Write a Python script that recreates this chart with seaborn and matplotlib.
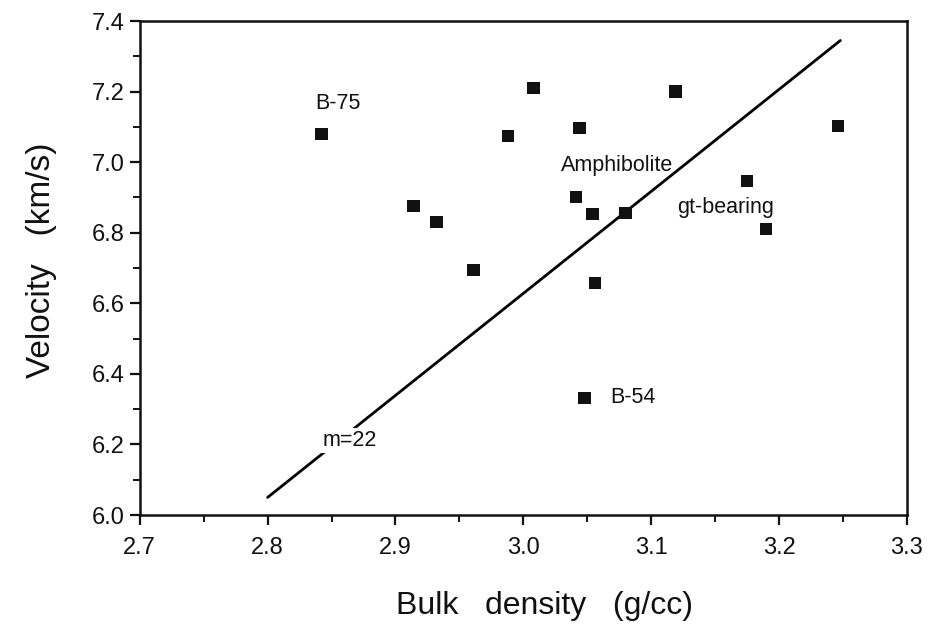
import matplotlib
matplotlib.use("Agg")
import matplotlib.pyplot as plt
from matplotlib.ticker import MultipleLocator
import seaborn as sns
import pandas as pd

# Bulk density (g/cc) and P-wave velocity (km/s) of the samples
density = [2.842, 2.914, 2.932, 2.961, 2.988, 3.008, 3.044, 3.041,
           3.054, 3.056, 3.080, 3.119, 3.175, 3.190, 3.246, 3.048]
velocity = [7.080, 6.876, 6.830, 6.694, 7.074, 7.210, 7.097, 6.901,
            6.853, 6.657, 6.856, 7.201, 6.946, 6.810, 7.102, 6.332]

# Trend line end points
trend_x = [2.800, 3.248]
trend_y = [6.050, 7.345]

# Annotations: text, x, y
labels = ["B-75", "Amphibolite", "gt-bearing", "B-54", "m=22"]
label_x = [2.855, 3.073, 3.158, 3.068, 2.864]
label_y = [7.165, 6.992, 6.873, 6.332, 6.212]

x_ticks = [2.7, 2.8, 2.9, 3.0, 3.1, 3.2, 3.3]
y_ticks = [6.0, 6.2, 6.4, 6.6, 6.8, 7.0, 7.2, 7.4]

sns.set_style("ticks")
plt.rcParams["font.family"] = ["Liberation Sans", "DejaVu Sans"]

df = pd.DataFrame({"density": density, "velocity": velocity})
line_df = pd.DataFrame({"x": trend_x, "y": trend_y})

fig = plt.figure(figsize=(9.32, 6.39), dpi=100)
ax = fig.add_axes([0.150, 0.194, 0.823, 0.773])

sns.lineplot(data=line_df, x="x", y="y", ax=ax, color="black", linewidth=2.0,
             zorder=2)
sns.scatterplot(data=df, x="density", y="velocity", ax=ax, marker="s",
                s=80, color="#111111", edgecolor="none", zorder=3)

for t, lx, ly in zip(labels, label_x, label_y):
    ha = "left" if t == "B-54" else "center"
    bbox = dict(facecolor="white", edgecolor="none", pad=1.5) if t == "m=22" else None
    ax.text(lx, ly, t, ha=ha, va="center", fontsize=15.5, color="#111111",
            bbox=bbox, zorder=4)

ax.set_xlim(2.7, 3.3)
ax.set_ylim(6.0, 7.4)
ax.set_xticks(x_ticks)
ax.set_yticks(y_ticks)
ax.set_xticklabels([f"{v:.1f}" for v in x_ticks])
ax.set_yticklabels([f"{v:.1f}" for v in y_ticks])
ax.xaxis.set_minor_locator(MultipleLocator(0.05))
ax.yaxis.set_minor_locator(MultipleLocator(0.1))
ax.tick_params(which="major", direction="out", length=7, width=1.6,
               labelsize=17, colors="#111111", pad=4)
ax.tick_params(axis="x", which="major", pad=9)
ax.tick_params(which="minor", direction="out", length=5, width=1.4,
               colors="#111111")

for sp in ax.spines.values():
    sp.set_linewidth(1.8)
    sp.set_color("#111111")

ax.set_xlabel("Bulk   density   (g/cc)", fontsize=23, color="#111111",
              labelpad=23)
ax.set_ylabel("Velocity   (km/s)", fontsize=24, color="#111111", labelpad=25)
ax.xaxis.label.set_x(0.527)
ax.yaxis.label.set_y(0.515)

fig.savefig("out.png", dpi=100, facecolor="white")
